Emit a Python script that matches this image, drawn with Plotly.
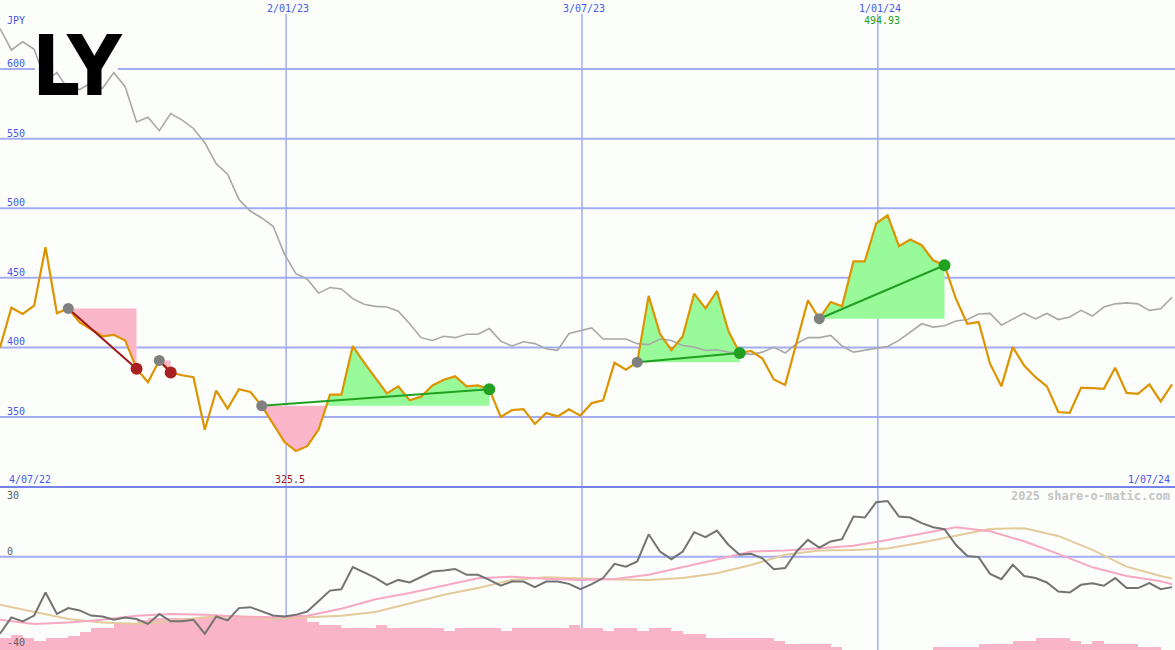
import pandas as pd
import plotly.graph_objects as go

# ---------------- data ----------------
dates = pd.date_range("2022-07-10", periods=104, freq="7D")

price = [400, 428.5, 424, 430, 472, 424.6, 428, 418, 413, 408,
         409, 405, 384.7, 375, 390.6, 382, 380, 378.6, 340.8, 369,
         356, 370, 368, 358, 345, 332, 325.5, 329, 341, 366,
         366, 401, 389, 378, 367, 372, 362, 364.6, 372.7, 376.8,
         379.2, 372, 372.7, 370, 350, 355, 355.6, 345, 352.8, 350.4,
         355.6, 351, 360, 362, 389, 384, 389.4, 437, 409.8, 398,
         408, 438.6, 428, 440.5, 412, 396, 397.4, 392, 377, 373,
         402.6, 433.8, 420.6, 432.6, 429.5, 461.8, 461.8, 489, 494.93, 472.7,
         477.5, 473.4, 462.6, 459, 435, 417, 418.2, 388.3, 372, 400.2,
         387, 378.6, 372, 353.6, 352.9, 371, 370.8, 370.3, 385.4, 367.3,
         366.7, 373.4, 361.2, 373.4]

relative = [629, 613.7, 619.6, 614.2, 591.4, 597.4, 585.4, 585.4, 590, 586,
            597.4, 587.3, 562, 565.3, 555.7, 568, 563.3, 557.3, 547, 532,
            524.5, 506.3, 498, 493, 487, 467, 453, 449, 439, 443,
            442, 435, 431, 429.5, 429, 426, 417, 407, 405, 408,
            407, 409.4, 409.4, 413.5, 404.5, 401, 404, 402.7, 399, 397.9,
            410, 412, 414, 406, 406, 406, 402.7, 402, 406, 405,
            401.4, 400.2, 397.8, 398.3, 396.6, 395.9, 395, 396.6, 400.2, 396,
            402.7, 407, 407, 408.6, 401, 396.6, 397.8, 399, 400.6, 405,
            411, 417, 414.6, 415.6, 419, 420, 424, 424.4, 416, 420,
            424.6, 420.5, 424.4, 420, 421.8, 426.6, 422.5, 429, 431.3, 432,
            431.3, 426.6, 427.8, 436]

oscillator = [-33, -26, -27.7, -25.2, -15.3, -24.5, -22, -23, -25.2, -25.6,
              -27, -26, -26.7, -28.8, -24.5, -27.7, -27.7, -27, -33, -25.6,
              -27.3, -22, -21.6, -23.5, -25.2, -25.6, -24.9, -23.5, -19, -14.5,
              -13.9, -4.4, -6.7, -9, -12, -9.9, -11, -8.7, -6.3, -5.9,
              -5.2, -7.7, -7.7, -9.9, -12.4, -10.6, -10.6, -13, -10.6, -10.6,
              -11.6, -13.9, -11.7, -9.1, -3, -4.2, -2, 9.7, 2.3, -1,
              2.3, 10.6, 8.5, 11.3, 5.2, 0.9, 1.3, -0.6, -5.3, -4.8,
              2.3, 7.3, 4, 6.6, 7.6, 17.3, 16.9, 23.5, 24, 17.3,
              16.9, 14.5, 12.7, 11.9, 5.2, 0.4, -0.1, -7.3, -9.6, -3.4,
              -8.2, -9.1, -11, -14.9, -15.3, -12, -11.3, -12.4, -9.1, -13.4,
              -13.4, -11.3, -13.9, -13]

ma_index = list(range(0, 103, 3)) + [103]
ma_fast = [-27, -28.8, -28.2, -27, -25.3, -24.5, -24.9, -25.6, -25.9, -25.3,
           -22.3, -18.2, -15.5, -12.3, -9.2, -8.5, -9.4, -9.9, -9.5, -7.7,
           -4.5, -1.1, 2.3, 2.7, 3.7, 4.8, 7.2, 9.8, 12.7, 11,
           6.7, 1.3, -4.5, -8.2, -10.5, -11.8]
ma_slow = [-20.6, -23.5, -26.7, -28.2, -28.7, -27.7, -25.9, -25.5, -26.6, -25.9,
           -25.3, -23.7, -20, -16.3, -13.4, -9.9, -8.8, -9.3, -9.7, -9.9,
           -9.1, -7.0, -3.5, 0.9, 2.7, 2.9, 3.6, 6.2, 9.2, 12,
           12.3, 9, 3, -4.2, -8.2, -9.3]

volume = [5.0, 6.5, 5.0, 4.0, 5.0, 5.0, 6.1, 7.9, 9.3, 9.3,
          11.2, 11.2, 12.9, 13.6, 13.6, 13.6, 13.6, 13.6, 13.6, 13.6,
          14.3, 14.3, 13.6, 13.6, 13.6, 14.6, 14.6, 12.1, 10.7, 10.7,
          9.3, 9.3, 9.3, 10.7, 9.3, 9.3, 9.3, 9.3, 9.3, 8.2,
          9.3, 9.3, 9.3, 9.3, 8.2, 9.3, 9.3, 9.3, 9.3, 9.3,
          10.7, 9.3, 9.3, 8.2, 9.3, 9.3, 8.2, 9.3, 9.3, 8.2,
          6.7, 6.7, 5.0, 5.0, 5.0, 5.0, 5.0, 5.0, 3.9, 2.6,
          2.6, 2.6, 2.6, 1.4, 0, 0, 0, 0, 0, 0,
          0, 0, 1.4, 1.4, 1.4, 1.4, 2.6, 2.6, 2.6, 4.0,
          4.0, 5.3, 5.3, 5.3, 4.0, 2.6, 4.0, 2.6, 2.6, 2.6,
          1.4, 1.4, 0, 0]

seg_start = [6, 14, 23, 56, 72]
seg_end = [12, 15, 43, 65, 83]

price_ticks = [350, 400, 450, 500, 550, 600]
date_lines = ["2023-01-02", "2023-07-03", "2024-01-01"]
date_labels = ["2/01/23", "3/07/23", "1/01/24"]

# ---------------- styling ----------------
W, H = 1175, 650
BG = "#FBFEFB"
GRID = "#A4ACF2"
BLUE = "#4858E8"
ORANGE = "#DD9400"
GREY = "#A8A8A8"
PINK_FILL = "#FBB6CA"
GREEN_FILL = "#98FA98"
GREEN = "#22A022"
DRED = "#A01818"
MONO = "DejaVu Sans Mono"
top_split = 1 - 487 / H


def px(x):
    return x / W


def py(y):
    return 1 - y / H


fig = go.Figure()

# ---- fills for signal segments ----
for s, e in zip(seg_start, seg_end):
    L = price[s]
    xs, ps = [], []
    for j in range(s, e + 1):
        xs.append(dates[j])
        ps.append(price[j])
        if j < e:
            a, b = price[j] - L, price[j + 1] - L
            if a * b < 0:
                t = a / (a - b)
                xs.append(dates[j] + pd.Timedelta(days=7 * t))
                ps.append(L)
    upper = [max(p, L) for p in ps]
    lower = [min(p, L) for p in ps]
    for yy, col in ((upper, GREEN_FILL), (lower, PINK_FILL)):
        if all(abs(v - L) < 1e-9 for v in yy):
            continue
        fig.add_trace(go.Scatter(x=xs, y=[L] * len(xs), mode="lines",
                                 line=dict(width=0), hoverinfo="skip",
                                 showlegend=False))
        fig.add_trace(go.Scatter(x=xs, y=yy, mode="lines", fill="tonexty",
                                 fillcolor=col, line=dict(width=0),
                                 hoverinfo="skip", showlegend=False))

# ---- relative (grey) and price lines ----
fig.add_trace(go.Scatter(x=dates, y=relative, mode="lines",
                         line=dict(color=GREY, width=1.6), showlegend=False))
fig.add_trace(go.Scatter(x=dates, y=price, mode="lines",
                         line=dict(color=ORANGE, width=2.2), showlegend=False))

# ---- trend lines and markers ----
for s, e in zip(seg_start, seg_end):
    col = GREEN if price[e] >= price[s] else DRED
    fig.add_trace(go.Scatter(x=[dates[s], dates[e]], y=[price[s], price[e]],
                             mode="lines", line=dict(color=col, width=2),
                             showlegend=False))
    fig.add_trace(go.Scatter(x=[dates[s]], y=[price[s]], mode="markers",
                             marker=dict(color="#808080", size=11),
                             showlegend=False))
    fig.add_trace(go.Scatter(x=[dates[e]], y=[price[e]], mode="markers",
                             marker=dict(color=col if col == GREEN else "#A82020", size=12),
                             showlegend=False))

# ---- lower panel ----
fig.add_trace(go.Bar(x=dates, y=volume, base=-40, width=7 * 86400000, offset=0,
                     marker=dict(color="#F9B4C8", line=dict(width=0)),
                     xaxis="x2", yaxis="y2", showlegend=False))
ma_dates = [dates[i] for i in ma_index]
fig.add_trace(go.Scatter(x=ma_dates, y=ma_slow, mode="lines", line=dict(color="#E4CA9C", width=2),
                         xaxis="x2", yaxis="y2", showlegend=False))
fig.add_trace(go.Scatter(x=ma_dates, y=ma_fast, mode="lines", line=dict(color="#F8A8C2", width=2),
                         xaxis="x2", yaxis="y2", showlegend=False))
fig.add_trace(go.Scatter(x=dates, y=oscillator, mode="lines", line=dict(color="#737373", width=2),
                         xaxis="x2", yaxis="y2", showlegend=False))

# ---------------- shapes ----------------
shapes = []
for v in price_ticks:
    shapes.append(dict(type="line", xref="paper", yref="y", x0=0, x1=1, y0=v, y1=v,
                       line=dict(color=GRID, width=2), layer="below"))
shapes.append(dict(type="line", xref="paper", yref="y2", x0=0, x1=1, y0=0, y1=0,
                   line=dict(color=GRID, width=2), layer="below"))
for d in date_lines:
    shapes.append(dict(type="line", xref="x", yref="paper", x0=d, x1=d, y0=0, y1=py(14),
                       line=dict(color=GRID, width=1.5), layer="below"))
shapes.append(dict(type="rect", xref="paper", yref="paper", x0=px(35), x1=px(118),
                   y0=py(97), y1=py(35), fillcolor=BG, line=dict(width=0), layer="below"))
shapes.append(dict(type="line", xref="paper", yref="paper", x0=0, x1=1, y0=top_split, y1=top_split,
                   line=dict(color="#7484EC", width=2), layer="above"))

# ---------------- annotations ----------------
ann = []


def label(text, x, y, color=BLUE, xanchor="left", size=10, bold=False):
    ann.append(dict(text=f"<b>{text}</b>" if bold else text, xref="paper", yref="paper",
                    x=px(x), y=py(y), xanchor=xanchor, yanchor="middle", showarrow=False,
                    font=dict(family=MONO, size=size, color=color)))


label("JPY", 5, 20)
for v in price_ticks:
    ann.append(dict(text=str(v), xref="paper", yref="y", x=px(5), y=v, xanchor="left",
                    yanchor="bottom", yshift=-2, showarrow=False,
                    font=dict(family=MONO, size=10, color=BLUE)))
for d, t in zip(date_lines, date_labels):
    ann.append(dict(text=t, xref="x", yref="paper", x=d, y=py(8), xanchor="center",
                    yanchor="middle", showarrow=False, xshift=2,
                    font=dict(family=MONO, size=10, color=BLUE)))
ann.append(dict(text="494.93", xref="x", yref="paper", x=date_lines[2], y=py(20),
                xanchor="center", yanchor="middle", showarrow=False, xshift=4,
                font=dict(family=MONO, size=10, color=GREEN)))
label("4/07/22", 7, 479)
label("325.5", 290, 479, color=DRED, xanchor="center")
label("1/07/24", 1172, 479, xanchor="right")
label("30", 5, 495, color="#606060")
label("0", 5, 551, color="#606060")
label("-40", 5, 642, color="#606060")
label("2025 share-o-matic.com", 1172, 496, color="#C4C4C4", xanchor="right", size=12, bold=True)
ann.append(dict(text="<b>LY</b>", xref="paper", yref="paper", x=px(30), y=py(66),
                xanchor="left", yanchor="middle", showarrow=False,
                font=dict(family="Liberation Sans Narrow, DejaVu Sans Condensed", size=84,
                          color="black")))

axis_off = dict(showgrid=False, zeroline=False, showticklabels=False, showline=False, ticks="")
x_range = ["2022-07-10", "2024-07-01 19:00"]

fig.update_layout(
    width=W, height=H, margin=dict(l=0, r=0, t=0, b=0),
    paper_bgcolor=BG, plot_bgcolor=BG, showlegend=False,
    xaxis=dict(range=x_range, domain=[0, 1], anchor="y", **axis_off),
    yaxis=dict(range=[299.7, 649.6], domain=[top_split, 1], anchor="x", **axis_off),
    xaxis2=dict(range=x_range, domain=[0, 1], anchor="y2", matches="x", **axis_off),
    yaxis2=dict(range=[-40, 30], domain=[0, top_split], anchor="x2", **axis_off),
    shapes=shapes, annotations=ann, bargap=0,
)

fig.write_html("out.html", config={"displayModeBar": False},
               post_script="document.body.style.margin='0';document.body.style.overflow='hidden';")
